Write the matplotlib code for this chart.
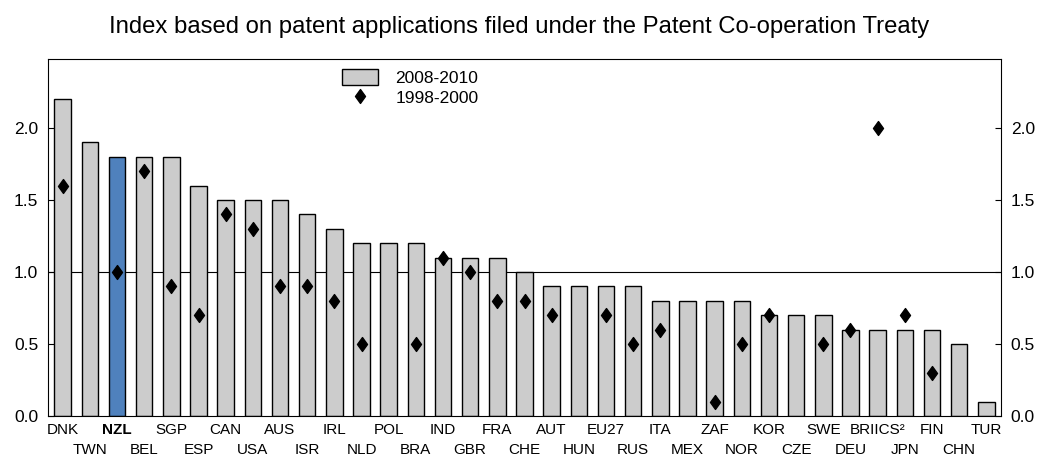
import matplotlib
matplotlib.use("Agg")
import matplotlib.pyplot as plt
from matplotlib.path import Path
import numpy as np

plt.rcParams['font.family'] = ['Liberation Sans', 'DejaVu Sans']

categories = ["DNK", "TWN", "NZL", "BEL", "SGP", "ESP", "CAN", "USA", "AUS", "ISR",
              "IRL", "NLD", "POL", "BRA", "IND", "GBR", "FRA", "CHE", "AUT", "HUN",
              "EU27", "RUS", "ITA", "MEX", "ZAF", "NOR", "KOR", "CZE", "SWE", "DEU",
              "BRIICS²", "JPN", "FIN", "CHN", "TUR"]
values_2008_2010 = [2.2, 1.9, 1.8, 1.8, 1.8, 1.6, 1.5, 1.5, 1.5, 1.4,
                    1.3, 1.2, 1.2, 1.2, 1.1, 1.1, 1.1, 1.0, 0.9, 0.9,
                    0.9, 0.9, 0.8, 0.8, 0.8, 0.8, 0.7, 0.7, 0.7, 0.6,
                    0.6, 0.6, 0.6, 0.5, 0.1]
values_1998_2000 = [1.6, np.nan, 1.0, 1.7, 0.9, 0.7, 1.4, 1.3, 0.9, 0.9,
                    0.8, 0.5, np.nan, 0.5, 1.1, 1.0, 0.8, 0.8, 0.7, np.nan,
                    0.7, 0.5, 0.6, np.nan, 0.1, 0.5, 0.7, np.nan, 0.5, 0.6,
                    2.0, 0.7, 0.3, np.nan, np.nan]
yticks = [0.0, 0.5, 1.0, 1.5, 2.0]
title = "Index based on patent applications filed under the Patent Co-operation Treaty"

fig = plt.figure(figsize=(10.38, 4.57), dpi=100)
ax = fig.add_axes([48/1038, 1 - 416/457, (1001-48)/1038, (416-59)/457])

x = np.arange(len(categories))
colors = ['#4f81bd' if c == 'NZL' else '#cccccc' for c in categories]
bars = ax.bar(x, values_2008_2010, width=0.61, color=colors, edgecolor='black',
              linewidth=1.0, label='2008-2010', zorder=2)
ax.axhline(1.0, color='black', linewidth=0.8, zorder=1)
diamond = Path([(0, 1), (0.72, 0), (0, -1), (-0.72, 0), (0, 1)],
               [Path.MOVETO, Path.LINETO, Path.LINETO, Path.LINETO, Path.CLOSEPOLY])
pts, = ax.plot(x, values_1998_2000, linestyle='none', marker=diamond, markersize=10,
               color='black', label='1998-2000', zorder=3)

ax.set_xlim(-0.54, len(categories) - 1 + 0.54)
ax.set_ylim(0, 2.48)
ax.set_yticks(yticks)
ax.set_yticklabels([f"{v:.1f}" for v in yticks], fontsize=12.5)
ax.tick_params(axis='y', which='both', direction='in', length=4, right=True,
               labelright=True, left=True, labelleft=True, pad=7)

# two rows of category labels: even positions on the first row, odd on the second
ax.set_xticks(x[::2])
ax.set_xticklabels(categories[::2], fontsize=11)
ax.set_xticks(x[1::2], minor=True)
ax.set_xticklabels(categories[1::2], minor=True, fontsize=11)
ax.tick_params(axis='x', which='major', length=0, pad=5)
ax.tick_params(axis='x', which='minor', length=0, pad=19.5)
for lab in ax.get_xticklabels(which='both'):
    if lab.get_text() == 'NZL':
        lab.set_fontweight('bold')
for sp in ax.spines.values():
    sp.set_linewidth(0.8)

ax.legend([bars, pts], ['2008-2010', '1998-2000'], loc='upper left',
          bbox_to_anchor=(0.298, 1.0), frameon=False, fontsize=12.5,
          handlelength=2.1, handleheight=1.05, handletextpad=1.0,
          labelspacing=0.2, borderaxespad=0.15)

fig.text(0.5, 1 - 33/457, title, ha='center', va='baseline', fontsize=17.2)

fig.savefig("out.png", dpi=100)
